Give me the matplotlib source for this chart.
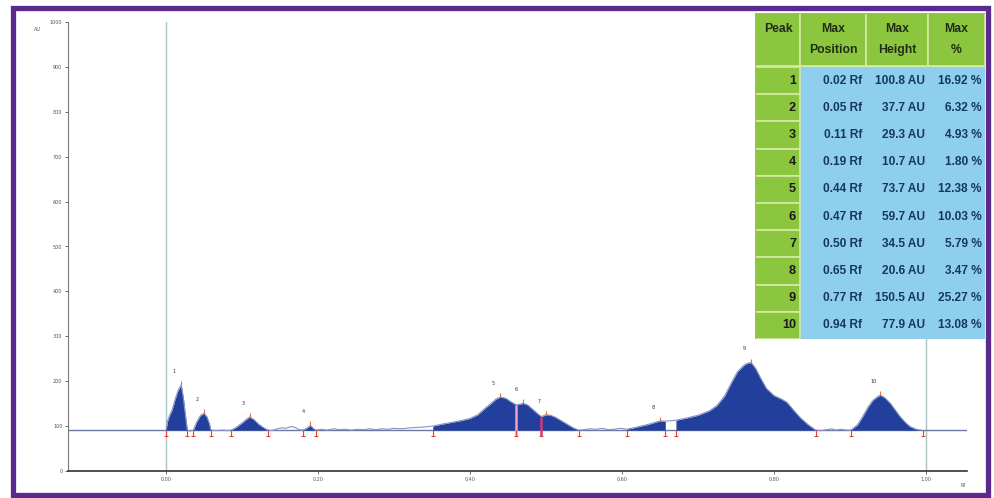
import numpy as np
import matplotlib.pyplot as plt
from matplotlib.patches import Rectangle

# densitogram trace, Rf vs AU (apex points are taken from the peak table below)
trace_rf = [0.000, 0.002, 0.005, 0.008, 0.012, 0.016, 0.023, 0.025, 0.027, 0.028,
            0.032, 0.036, 0.040, 0.045, 0.054, 0.057, 0.059, 0.066, 0.075, 0.080,
            0.086, 0.093, 0.100, 0.105, 0.116, 0.122, 0.128, 0.134, 0.140, 0.146,
            0.152, 0.158, 0.164, 0.170, 0.175, 0.180, 0.185, 0.193, 0.197, 0.205,
            0.212, 0.220, 0.228, 0.236, 0.244, 0.252, 0.260, 0.268, 0.276, 0.284,
            0.292, 0.300, 0.310, 0.320, 0.330, 0.340, 0.351, 0.365, 0.378, 0.390,
            0.400, 0.410, 0.420, 0.428, 0.434, 0.447, 0.453, 0.461, 0.466, 0.476,
            0.482, 0.488, 0.494, 0.506, 0.512, 0.520, 0.528, 0.536, 0.543, 0.550,
            0.558, 0.566, 0.574, 0.582, 0.590, 0.598, 0.606, 0.615, 0.625, 0.635,
            0.643, 0.657, 0.664, 0.671, 0.685, 0.700, 0.715, 0.725, 0.735, 0.745,
            0.752, 0.760, 0.765, 0.776, 0.783, 0.790, 0.800, 0.810, 0.817, 0.825,
            0.835, 0.845, 0.855, 0.862, 0.870, 0.876, 0.882, 0.888, 0.895, 0.901,
            0.910, 0.917, 0.924, 0.930, 0.935, 0.946, 0.953, 0.960, 0.966, 0.973,
            0.979, 0.987, 0.996]
trace_au = [91, 111, 125, 136, 160, 180, 160, 131, 105, 91,
            89, 91, 108, 123, 120, 106, 91, 90, 91, 90,
            91, 98, 107, 114, 114, 104, 97, 91, 90, 94,
            96, 95, 99, 97, 92, 91, 95, 96, 91, 93,
            91, 94, 92, 93, 91, 93, 92, 94, 92, 94,
            93, 95, 94, 96, 97, 98, 100, 105, 109, 113,
            117, 125, 140, 151, 160, 162, 155, 147, 149, 147,
            138, 129, 121, 124, 120, 112, 104, 96, 91, 92,
            94, 93, 95, 92, 93, 95, 93, 96, 100, 104,
            108, 111, 112, 113, 118, 124, 134, 146, 167, 200,
            221, 235, 240, 228, 205, 184, 168, 160, 153, 137,
            118, 103, 91, 90, 92, 94, 91, 93, 91, 91,
            103, 122, 143, 157, 164, 163, 151, 135, 121, 108,
            99, 93, 90]

baseline = 91

# peak table
peak_no = [1, 2, 3, 4, 5, 6, 7, 8, 9, 10]
peak_pos = [0.02, 0.05, 0.11, 0.19, 0.44, 0.47, 0.50, 0.65, 0.77, 0.94]
peak_height = [100.8, 37.7, 29.3, 10.7, 73.7, 59.7, 34.5, 20.6, 150.5, 77.9]
peak_pct = [16.92, 6.32, 4.93, 1.80, 12.38, 10.03, 5.79, 3.47, 25.27, 13.08]

# integration limits of each peak
peak_start = [0.000, 0.036, 0.086, 0.180, 0.351, 0.461, 0.494, 0.606, 0.671, 0.901]
peak_end = [0.028, 0.059, 0.134, 0.197, 0.461, 0.494, 0.543, 0.657, 0.855, 0.996]
split_at = [0.461, 0.494]

x_ticks = [0.0, 0.2, 0.4, 0.6, 0.8, 1.0]
y_ticks = list(range(0, 1001, 100))

apex_au = [baseline + h for h in peak_height]
rf = np.array(trace_rf + peak_pos)
au = np.array(trace_au + apex_au, dtype=float)
order = np.argsort(rf)
rf, au = rf[order], au[order]

W, H = 994, 498
fig = plt.figure(figsize=(W / 100, H / 100), dpi=100)
fig.patch.set_facecolor('white')

ax = fig.add_axes([68 / W, 1 - 471 / H, (967 - 68) / W, (471 - 22) / H])
ax.set_xlim(-0.129, 1.054)
ax.set_ylim(0, 1000)
for s in ['top', 'right']:
    ax.spines[s].set_visible(False)
ax.spines['left'].set_color('#7a7a7a')
ax.spines['bottom'].set_color('#333333')
ax.spines['bottom'].set_linewidth(1.2)
ax.set_xticks(x_ticks)
ax.set_xticklabels(['%.2f' % t for t in x_ticks])
ax.set_yticks(y_ticks)
ax.tick_params(axis='both', labelsize=3.5, colors='#555555', length=2.5, width=0.6, pad=1.5)

# reference lines at start and front
for x in (0.0, 1.0):
    ax.axvline(x, color='#a9c4c0', lw=1, zorder=1)
ax.axhline(baseline, color='#6d7aa0', lw=1, zorder=2)

fill_c = '#223f9c'
for s, e in zip(peak_start, peak_end):
    m = (rf >= s - 1e-9) & (rf <= e + 1e-9)
    ax.fill_between(rf[m], baseline, au[m], color=fill_c, lw=0, zorder=3)
ax.plot(rf, au, color='#8592c4', lw=0.8, zorder=4)

# split lines between overlapping peaks
for x, c in zip(split_at, ['#f2a3c4', '#d2387c']):
    y = np.interp(x, rf, au)
    ax.vlines(x, baseline - 14, y, color=c, lw=1.8, zorder=5)

# integration limit marks and apex ticks
bounds = sorted(set(peak_start + peak_end))
ax.vlines(bounds, baseline - 14, baseline, color='#e2452c', lw=0.8, zorder=6)
ax.plot(bounds, [baseline - 14] * len(bounds), ls='none', marker='_', ms=2.5,
        mew=0.8, color='#e2452c', zorder=6)
ax.vlines(peak_pos, apex_au, [a + 9 for a in apex_au], color='#e8703a', lw=0.8, zorder=6)
for n, x, y in zip(peak_no, peak_pos, apex_au):
    ax.annotate(str(n), (x, y), xytext=(-5, 8), textcoords='offset points',
                fontsize=3.5, color='#333333', ha='center', va='bottom')

fig.text(37 / W, 1 - 29 / H, 'AU', fontsize=3.5, color='#555555', ha='center', va='center')
fig.text(963 / W, 1 - 485 / H, 'Rf', fontsize=3.5, color='#555555', ha='center', va='center')

# peak table
tx0, tx1, ty0, ty1 = 755, 985, 13, 339
tax = fig.add_axes([tx0 / W, 1 - ty1 / H, (tx1 - tx0) / W, (ty1 - ty0) / H])
tax.set_xlim(tx0, tx1)
tax.set_ylim(ty1, ty0)
tax.axis('off')

face = ['Liberation Sans', 'DejaVu Sans']
green, green_edge, blue = '#8cc63e', '#d3eaa5', '#8ecff0'
cols = [755, 800, 866, 928, 985]
head_bot = 66
row_top = 67
row_h = (ty1 - row_top) / len(peak_no)

for i in range(4):
    tax.add_patch(Rectangle((cols[i], ty0), cols[i + 1] - cols[i], head_bot - ty0,
                            facecolor=green, edgecolor=green_edge, lw=1.2))
tax.add_patch(Rectangle((cols[1], row_top), cols[4] - cols[1], ty1 - row_top,
                        facecolor=blue, edgecolor='none'))
for r in range(len(peak_no)):
    tax.add_patch(Rectangle((cols[0], row_top + r * row_h), cols[1] - cols[0], row_h,
                            facecolor=green, edgecolor=green_edge, lw=1.2))
tax.add_patch(Rectangle((tx0, ty0), tx1 - tx0, ty1 - ty0, fill=False,
                        edgecolor='#a4b096', lw=0.8))

head_c = '#1f2d14'
hs, ds = 8.8, 8.6
tax.text(778, 29, 'Peak', ha='center', va='center', fontsize=hs, fontweight='bold',
         color=head_c, family=face)
for i, (l1, l2) in enumerate([('Max', 'Position'), ('Max', 'Height'), ('Max', '%')]):
    cx = (cols[i + 1] + cols[i + 2]) / 2
    tax.text(cx, 29, l1, ha='center', va='center', fontsize=hs, fontweight='bold',
             color=head_c, family=face)
    tax.text(cx, 50, l2, ha='center', va='center', fontsize=hs, fontweight='bold',
             color=head_c, family=face)

txt_c = '#17375e'
for r, (n, p, h, pc) in enumerate(zip(peak_no, peak_pos, peak_height, peak_pct)):
    cy = row_top + r * row_h + row_h / 2
    tax.text(796, cy, str(n), ha='right', va='center', fontsize=ds + 0.6, fontweight='bold',
             color='#1a1a1a', family=face)
    tax.text(862, cy, '%.2f Rf' % p, ha='right', va='center', fontsize=ds,
             fontweight='bold', color=txt_c, family=face)
    tax.text(925, cy, '%.1f AU' % h, ha='right', va='center', fontsize=ds,
             fontweight='bold', color=txt_c, family=face)
    tax.text(982, cy, '%.2f %%' % pc, ha='right', va='center', fontsize=ds,
             fontweight='bold', color=txt_c, family=face)

# purple frame
fig.add_artist(Rectangle((12.5 / W, 1 - 495 / H), 975 / W, 487 / H,
                         transform=fig.transFigure, fill=False,
                         edgecolor='#5b2a8e', lw=3.8, zorder=20))

fig.savefig('out.png', dpi=100)
